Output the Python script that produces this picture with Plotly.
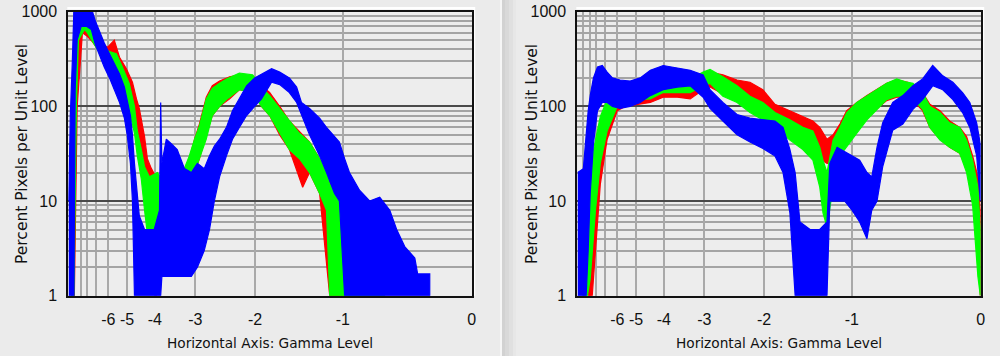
import plotly.graph_objects as go

# ---------------- axis definitions ----------------
GAMMA = 1.8                     # horizontal axis is linear in the gamma-encoded level 2**(g/1.8)
tick_levels = [-6, -5, -4, -3, -2, -1, 0]
minor_levels = [-7, -8, -9, -11]
y_ticks = [1, 10, 100, 1000]
y_minor = [m * 10 ** k for k in range(3) for m in range(2, 10)]

# ---------------- data: encoded level (0..1), upper / lower envelope of percent ----------------
# Left panel
left_blue_x = [0.001, 0.005, 0.010, 0.014, 0.017, 0.022, 0.032, 0.045, 0.057, 0.067, 0.077, 0.089, 0.102, 0.114,
               0.127, 0.139, 0.146, 0.154, 0.159, 0.164, 0.176, 0.189, 0.201, 0.213, 0.226, 0.229, 0.232, 0.243,
               0.256, 0.270, 0.288, 0.305, 0.320, 0.337, 0.350, 0.362, 0.375, 0.392, 0.407, 0.424, 0.442, 0.462,
               0.479, 0.504, 0.524, 0.548, 0.566, 0.578, 0.598, 0.623, 0.640, 0.660, 0.672, 0.685, 0.697, 0.722,
               0.747, 0.772, 0.797, 0.814, 0.834, 0.859, 0.866, 0.896]
left_blue_hi = [10, 80, 300, 1100, 1100, 1100, 1100, 1100, 1100, 800, 620, 470, 360, 280,
                220, 160, 120, 80, 50, 25, 7, 5, 5, 5, 8, 110, 25, 45,
                40, 35, 22, 20, 25, 22, 30, 38, 45, 60, 90, 120, 165, 200,
                220, 250, 230, 200, 160, 110, 95, 75, 60, 48, 42, 28, 20, 13,
                10, 11, 8, 5, 3.3, 2.5, 1.7, 1.7]
left_blue_lo = [1, 1, 1, 1, 150, 500, 700, 700, 650, 450, 350, 260, 200, 150,
                110, 75, 50, 25, 10, 1, 1, 1, 1, 1, 1, 1, 1.6, 1.6,
                1.6, 1.6, 1.6, 1.6, 2, 3, 5, 10, 18, 30, 45, 60, 80, 100,
                120, 180, 170, 140, 110, 80, 50, 30, 20, 12, 10, 1, 1, 1,
                1, 1, 1, 1, 1, 1, 1, 1]

left_green_x = [0.007, 0.014, 0.020, 0.025, 0.040, 0.047, 0.057, 0.069, 0.084, 0.102, 0.119, 0.134, 0.151, 0.164,
                0.171, 0.181, 0.189, 0.201, 0.221, 0.238, 0.251, 0.263, 0.275, 0.288, 0.300, 0.313, 0.325, 0.342,
                0.357, 0.375, 0.392, 0.424, 0.457, 0.479, 0.499, 0.524, 0.548, 0.573, 0.598, 0.623, 0.640, 0.648,
                0.697, 0.722, 0.734, 0.784]
left_green_hi = [40, 250, 900, 1100, 1100, 900, 650, 520, 420, 380, 360, 260, 175, 100,
                 55, 35, 23, 18, 20, 15, 12, 12, 16, 22, 30, 45, 62, 120,
                 155, 175, 195, 225, 215, 160, 130, 95, 70, 52, 42, 28, 20, 15,
                 10, 8, 1.6, 1.6]
left_green_lo = [1, 1, 100, 500, 650, 600, 520, 420, 330, 290, 220, 160, 93, 52,
                 30, 17, 8, 3, 2.5, 3, 3, 4, 6, 10, 14, 20, 28, 45,
                 80, 100, 118, 150, 140, 100, 80, 52, 35, 28, 20, 12, 8, 1,
                 1, 1, 1, 1]

left_red_x = [0.007, 0.015, 0.022, 0.035, 0.047, 0.060, 0.077, 0.097, 0.114, 0.127, 0.144, 0.159, 0.169, 0.176,
              0.189, 0.196, 0.206, 0.218, 0.231, 0.251, 0.270, 0.288, 0.300, 0.313, 0.325, 0.342, 0.357, 0.375,
              0.400, 0.424, 0.457, 0.479, 0.499, 0.524, 0.548, 0.581, 0.598, 0.623, 0.648, 0.677, 0.685]
left_red_hi = [30, 200, 800, 1000, 800, 620, 480, 420, 500, 330, 250, 180, 120, 95,
               48, 28, 22, 18, 14, 12, 10, 18, 28, 45, 65, 125, 165, 185,
               205, 215, 210, 165, 140, 100, 70, 50, 42, 28, 18, 10, 1.5]
left_red_lo = [1, 1, 100, 600, 550, 480, 380, 300, 250, 200, 150, 100, 70, 45,
               25, 14, 6, 1, 2, 3, 2, 8, 12, 20, 28, 50, 80, 100,
               120, 150, 140, 100, 80, 50, 35, 14, 20, 12, 1, 1, 1]

# Right panel
right_blue_x = [0.001, 0.015, 0.022, 0.027, 0.032, 0.040, 0.050, 0.062, 0.074, 0.087, 0.106, 0.131, 0.156, 0.181,
                0.213, 0.248, 0.280, 0.312, 0.329, 0.361, 0.396, 0.428, 0.460, 0.490, 0.510, 0.527, 0.540, 0.552,
                0.577, 0.601, 0.619, 0.626, 0.644, 0.663, 0.681, 0.700, 0.718, 0.730, 0.743, 0.757, 0.782, 0.807,
                0.832, 0.856, 0.881, 0.906, 0.931, 0.955, 0.973, 0.990, 0.999]
right_blue_hi = [20, 22, 50, 90, 130, 200, 260, 270, 230, 200, 190, 185, 200, 240,
                 270, 255, 240, 215, 150, 110, 82, 75, 72, 70, 60, 35, 20, 6,
                 5, 5, 6, 25, 37, 33, 30, 27, 20, 18, 37, 67, 110, 130,
                 165, 195, 270, 210, 180, 140, 110, 67, 40]
right_blue_lo = [1, 1, 1, 3, 12, 40, 90, 110, 110, 100, 95, 100, 110, 130,
                 150, 160, 165, 125, 95, 70, 50, 42, 36, 30, 20, 7.5, 1, 1,
                 1, 1, 1, 10, 10, 10, 8, 6, 4, 8, 10, 23, 56, 65,
                 93, 118, 165, 150, 118, 86, 60, 30, 10]

right_green_x = [0.015, 0.020, 0.025, 0.032, 0.045, 0.057, 0.074, 0.099, 0.114, 0.149, 0.181, 0.213, 0.248, 0.280,
                 0.312, 0.329, 0.361, 0.396, 0.428, 0.460, 0.490, 0.527, 0.559, 0.584, 0.601, 0.609, 0.619, 0.634,
                 0.651, 0.668, 0.693, 0.718, 0.743, 0.767, 0.792, 0.817, 0.832, 0.856, 0.874, 0.899, 0.923, 0.948,
                 0.965, 0.980, 0.993, 0.999]
right_green_hi = [1, 3, 5, 23, 44, 78, 118, 165, 180, 175, 175, 190, 195, 195,
                  230, 245, 205, 165, 128, 110, 86, 72, 60, 55, 37, 27, 20, 44,
                  60, 86, 110, 128, 150, 175, 195, 180, 175, 140, 100, 86, 67, 60,
                  44, 27, 14, 5]
right_green_lo = [1, 1, 1, 1.5, 8, 25, 55, 100, 110, 118, 120, 140, 140, 140,
                  165, 175, 128, 110, 86, 72, 60, 44, 35, 27, 14, 7.5, 5.3, 14,
                  30, 37, 52, 72, 93, 118, 128, 128, 120, 93, 60, 44, 37, 32,
                  20, 9, 1.6, 1]

right_red_x = [0.027, 0.037, 0.045, 0.057, 0.074, 0.099, 0.119, 0.149, 0.181, 0.213, 0.248, 0.280, 0.312, 0.329,
               0.361, 0.396, 0.428, 0.460, 0.490, 0.527, 0.559, 0.584, 0.601, 0.619, 0.634, 0.651, 0.668, 0.693,
               0.718, 0.743, 0.767, 0.792, 0.817, 0.832, 0.856, 0.874, 0.899, 0.923, 0.948, 0.965, 0.980, 0.993,
               0.999]
right_red_hi = [1, 8, 20, 55, 100, 150, 160, 160, 165, 175, 180, 175, 215, 230,
                215, 190, 180, 150, 105, 90, 78, 70, 60, 45, 50, 65, 90, 110,
                130, 150, 175, 190, 180, 170, 140, 105, 90, 70, 60, 48, 30, 18,
                8]
right_red_lo = [1, 1, 3, 15, 45, 90, 100, 105, 110, 125, 125, 120, 150, 160,
                135, 120, 100, 85, 70, 55, 45, 35, 28, 25, 25, 35, 45, 60,
                75, 95, 115, 125, 125, 115, 90, 60, 45, 37, 32, 22, 12, 5,
                1]

RED, GREEN, BLUE = "#ff0000", "#00ff00", "#0000ff"

W, H = 1000, 356
PLOT_TOP, PLOT_BOT = 11.7, 295.7
LEFT_X = (68.3, 471.7)
RIGHT_X = (577.3, 980.7)


def band(xs, hi, lo, color, xa, ya):
    assert len(xs) == len(hi) == len(lo)
    return go.Scatter(
        x=list(xs) + list(xs)[::-1],
        y=list(hi) + list(lo)[::-1],
        mode="lines", fill="toself", fillcolor=color,
        line=dict(color=color, width=1.2),
        xaxis=xa, yaxis=ya, hoverinfo="skip", showlegend=False,
    )


fig = go.Figure()
for xs, hi, lo, c in [(left_red_x, left_red_hi, left_red_lo, RED),
                      (left_green_x, left_green_hi, left_green_lo, GREEN),
                      (left_blue_x, left_blue_hi, left_blue_lo, BLUE)]:
    fig.add_trace(band(xs, hi, lo, c, "x", "y"))
for xs, hi, lo, c in [(right_red_x, right_red_hi, right_red_lo, RED),
                      (right_green_x, right_green_hi, right_green_lo, GREEN),
                      (right_blue_x, right_blue_hi, right_blue_lo, BLUE)]:
    fig.add_trace(band(xs, hi, lo, c, "x2", "y2"))

tickvals = [2 ** (g / GAMMA) for g in tick_levels]
minorvals = [2 ** (g / GAMMA) for g in minor_levels]
FONT = "Liberation Sans"
TITLE_FONT = "DejaVu Sans"


def xaxis(dom, anchor):
    return dict(
        domain=[dom[0] / W, dom[1] / W], anchor=anchor, range=[0, 1], automargin=False,
        tickmode="array", tickvals=tickvals, ticktext=[str(g) for g in tick_levels],
        showgrid=True, gridcolor="#a9a9a9", gridwidth=2,
        minor=dict(tickmode="array", tickvals=minorvals, showgrid=True, gridcolor="#a9a9a9", gridwidth=2),
        showline=True, linecolor="#111111", linewidth=2, mirror=True,
        ticks="", ticklabelstandoff=8,
        tickfont=dict(family=FONT, size=16, color="#111111"),
        zeroline=False,
    )


def yaxis(anchor):
    return dict(
        domain=[(H - PLOT_BOT) / H, (H - PLOT_TOP) / H], anchor=anchor, automargin=False,
        type="log", range=[0, 3],
        tickmode="array", tickvals=y_ticks, ticktext=[str(v) for v in y_ticks],
        showgrid=True, gridcolor="#4a4a4a", gridwidth=2,
        minor=dict(tickmode="array", tickvals=y_minor, showgrid=True, gridcolor="#a4a4a4", gridwidth=2),
        showline=True, linecolor="#111111", linewidth=2, mirror=True,
        ticks="", ticklabelstandoff=6,
        tickfont=dict(family=FONT, size=16, color="#111111"),
        zeroline=False,
    )


shapes = []
# divider strip between the two panels
for x0, x1, col in [(500, 502, "#f6f6f6"), (502, 505, "#d2d2d2"), (505, 509, "#d9d9d9"),
                    (509, 513, "#e0e0e0"), (513, 516, "#e7e7e7")]:
    shapes.append(dict(type="rect", xref="paper", yref="paper", x0=x0 / W, x1=x1 / W, y0=0, y1=1,
                       fillcolor=col, line=dict(width=0), layer="below"))
# white highlight above and right of each plot frame
for (a, b) in [LEFT_X, RIGHT_X]:
    shapes.append(dict(type="rect", xref="paper", yref="paper", x0=(a - 1) / W, x1=(b + 3) / W,
                       y0=(H - 9.5) / H, y1=(H - 7) / H, fillcolor="#ffffff", line=dict(width=0), layer="below"))
    shapes.append(dict(type="rect", xref="paper", yref="paper", x0=(b + 1) / W, x1=(b + 3.5) / W,
                       y0=(H - PLOT_BOT) / H, y1=(H - 7) / H, fillcolor="#ffffff", line=dict(width=0), layer="below"))

annotations = []
for (a, b), ytx in [(LEFT_X, 22), (RIGHT_X, 532)]:
    annotations.append(dict(text="Horizontal Axis: Gamma Level", xref="paper", yref="paper",
                            x=(a + b) / 2 / W, y=(H - 343) / H, showarrow=False,
                            font=dict(family=TITLE_FONT, size=13.7, color="#111111"),
                            xanchor="center", yanchor="middle"))
    annotations.append(dict(text="Percent Pixels per Unit Level", xref="paper", yref="paper",
                            x=ytx / W, y=(H - 154) / H, showarrow=False, textangle=-90,
                            font=dict(family=TITLE_FONT, size=15.5, color="#111111"),
                            xanchor="center", yanchor="middle"))

fig.update_layout(
    width=W, height=H, autosize=False,
    margin=dict(l=0, r=0, t=0, b=0, pad=0, autoexpand=False),
    paper_bgcolor="#ebebeb", plot_bgcolor="#ededed",
    xaxis=xaxis(LEFT_X, "y"), yaxis=yaxis("x"),
    xaxis2=xaxis(RIGHT_X, "y2"), yaxis2=yaxis("x2"),
    shapes=shapes, annotations=annotations, showlegend=False,
)

# remove the browser's default page margin so the 1000x356 figure fills the window exactly
fig.write_html("out.html", config={"displayModeBar": False},
               post_script="document.body.style.margin='0';document.body.style.overflow='hidden';")
